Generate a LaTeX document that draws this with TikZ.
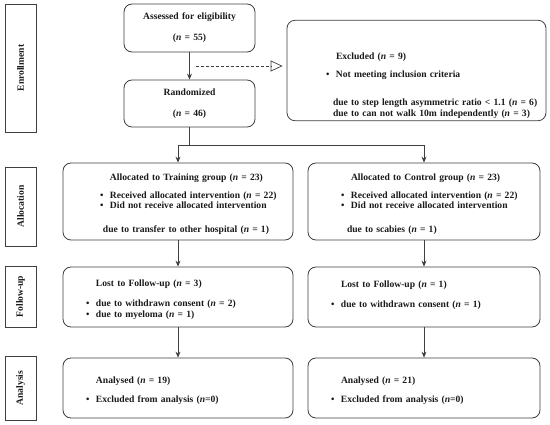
\documentclass[tikz,border=0pt]{standalone}
\usepackage{fontspec}
\setmainfont{Liberation Serif}
\usepackage{tikz}
\usetikzlibrary{arrows.meta,positioning,calc}
\definecolor{Ink}{HTML}{1A1A1A}
\definecolor{Edge}{HTML}{3F3F3F}
\newcommand{\nval}[1]{(\textit{n}~=~#1)}
\newcommand{\bul}{\llap{\textbullet\hspace{6.5pt}}}
\newcommand{\topgap}[1]{\rule{0pt}{#1}}

\begin{document}
\begin{tikzpicture}[
  x=1pt,y=-1pt,
  font=\bfseries\fontsize{9.6}{10.8}\selectfont,text=Ink,
  phase/.style={draw=Edge,line width=0.8pt,rotate=90,minimum height=31pt,inner sep=0pt},
  box/.style={draw=Edge,line width=0.8pt,rounded corners=8pt,inner xsep=0pt,inner ysep=2pt,align=left},
  arr/.style={-{Stealth[length=6pt,width=5pt]},draw=Edge,line width=0.8pt},
  link/.style={draw=Edge,line width=0.8pt},
  exclarr/.style={dashed,dash pattern=on 3pt off 2pt,-{Triangle[open,length=12pt,width=11pt]},draw=Edge,line width=0.7pt}]
\useasboundingbox (0,0) rectangle (550,425);
% phase labels
\node[phase,minimum width=128pt] (enrl) at (20.5,68) {Enrollment};
\node[phase,minimum width=79pt] (alloc) at (20.5,206.5) {Allocation};
\node[phase,minimum width=61pt] (follow) at (20.5,296.5) {Follow-up};
\node[phase,minimum width=64pt] (anal) at (20.5,388) {Analysis};
% enrollment
\node[box,align=center,text width=131pt,minimum height=48pt] (assess) at (189.5,28)
  {Assessed for eligibility\\[10pt]\nval{55}};
\node[box,align=center,text width=131pt,minimum height=47pt] (random) at (189.5,103.5)
  {Randomized\\[10pt]\nval{46}};
\node[box,text width=259pt,minimum height=87pt] (excl) at (416.5,70.5)
  {\hspace*{49pt}\topgap{37pt}Excluded \nval{9}\\[7pt]
   \hspace*{49pt}\bul Not meeting inclusion criteria\\[18pt]
   \hspace*{46pt}due to step length asymmetric ratio < 1.1 \nval{6}\\
   \hspace*{46pt}due to can not walk 10m independently \nval{3}};
% allocation
\node[box,text width=230pt,minimum height=77pt] (train) at (178,201.5)
  {\hspace*{47pt}\topgap{12pt}Allocated to Training group \nval{23}\\[7pt]
   \hspace*{47pt}\bul Received allocated intervention \nval{22}\\
   \hspace*{47pt}\bul Did not receive allocated intervention\\[13pt]
   \hspace*{40pt}due to transfer to other hospital \nval{1}};
\node[box,text width=232pt,minimum height=77pt] (ctrl) at (424,201.5)
  {\hspace*{43pt}\topgap{12pt}Allocated to Control group \nval{23}\\[7pt]
   \hspace*{43pt}\bul Received allocated intervention \nval{22}\\
   \hspace*{43pt}\bul Did not receive allocated intervention\\[13pt]
   \hspace*{39pt}due to scabies \nval{1}};
% follow-up
\node[box,text width=230pt,minimum height=60pt] (lostT) at (178,297)
  {\hspace*{33pt}\topgap{12pt}Lost to Follow-up \nval{3}\\[10pt]
   \hspace*{33pt}\bul due to withdrawn consent \nval{2}\\
   \hspace*{33pt}\bul due to myeloma \nval{1}};
\node[box,text width=232pt,minimum height=60pt] (lostC) at (424,297)
  {\hspace*{33pt}\topgap{12pt}Lost to Follow-up \nval{1}\\[10pt]
   \hspace*{33pt}\bul due to withdrawn consent \nval{1}\\
   \topgap{0pt}};
% analysis
\node[box,text width=230pt,minimum height=60pt] (anaT) at (178,388)
  {\hspace*{33pt}\topgap{12pt}Analysed \nval{19}\\[9pt]
   \hspace*{33pt}\bul Excluded from analysis (\textit{n}=0)};
\node[box,text width=232pt,minimum height=60pt] (anaC) at (424,388)
  {\hspace*{33pt}\topgap{12pt}Analysed \nval{21}\\[9pt]
   \hspace*{33pt}\bul Excluded from analysis (\textit{n}=0)};
% connectors
\coordinate (gate) at (189.5,66);
\coordinate (fork) at (189.5,145);
\draw[arr] (assess) -- (random);
\draw[exclarr] ([xshift=6pt]gate) -- ([xshift=-4pt]excl.west |- gate);
\draw[link] (random) -- (fork);
\draw[arr] (fork) -| (train);
\draw[arr] (fork) -| (ctrl);
\foreach \a/\b in {train/lostT,ctrl/lostC,lostT/anaT,lostC/anaC}
  \draw[arr] (\a) -- (\b);
\end{tikzpicture}
\end{document}
